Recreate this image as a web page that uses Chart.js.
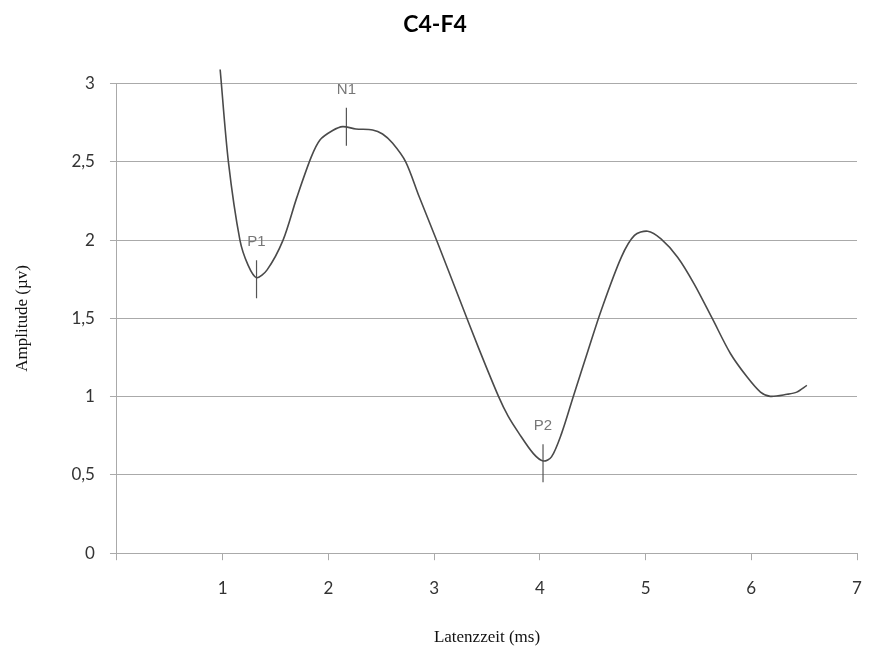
<!DOCTYPE html>
<html>
<head>
<meta charset="utf-8">
<script src="https://cdn.jsdelivr.net/npm/chart.js@4.4.0/dist/chart.umd.min.js"></script>
<style>
  html, body { margin: 0; padding: 0; background: #fff; }
  #wrap { width: 870px; height: 654px; }
</style>
</head>
<body>
<div id="wrap"><canvas id="chart" width="870" height="654"></canvas></div>
<script>
// waveform (latency ms, amplitude µV)
const latency = [0.976, 1.054, 1.163, 1.24, 1.32, 1.42, 1.571, 1.70, 1.837, 1.92, 2.04, 2.135, 2.26, 2.418, 2.512, 2.606,
  2.731, 2.857, 3.029, 3.233, 3.421, 3.61, 3.70, 3.798, 3.939, 4.033, 4.11, 4.205, 4.315, 4.456, 4.58, 4.77, 4.895, 5.02,
  5.146, 5.303, 5.459, 5.632, 5.804, 5.961, 6.087, 6.18, 6.338, 6.43, 6.526];
const amplitude = [3.09, 2.50, 2.00, 1.84, 1.76, 1.81, 2.00, 2.27, 2.53, 2.64, 2.70, 2.725, 2.71, 2.704, 2.678, 2.62,
  2.50, 2.28, 1.99, 1.635, 1.31, 1.0, 0.875, 0.77, 0.636, 0.589, 0.615, 0.764, 0.998, 1.295, 1.551, 1.89, 2.03, 2.057,
  2.008, 1.891, 1.721, 1.498, 1.274, 1.125, 1.029, 1.002, 1.015, 1.029, 1.072];

// marked peaks
const peakNames = ['P1', 'N1', 'P2'];
const peakLatency = [1.32, 2.17, 4.03];
const peakAmplitude = [1.75, 2.725, 0.575];

const xTicks = [1, 2, 3, 4, 5, 6, 7];

const peakLabels = {
  id: 'peakLabels',
  afterDatasetsDraw(chart) {
    const ctx = chart.ctx;
    const xs = chart.scales.x, ys = chart.scales.y;
    ctx.save();
    ctx.font = '15px "Liberation Sans"';
    ctx.fillStyle = '#777';
    ctx.textAlign = 'center';
    ctx.textBaseline = 'middle';
    peakNames.forEach((name, i) => {
      ctx.fillText(name, xs.getPixelForValue(peakLatency[i]), ys.getPixelForValue(peakAmplitude[i]) - 37);
    });
    ctx.restore();
  }
};

new Chart(document.getElementById('chart'), {
  type: 'scatter',
  data: {
    datasets: [{
      data: latency.map((x, i) => ({x: x, y: amplitude[i]})),
      showLine: true,
      borderColor: '#4a4a4a',
      borderWidth: 1.6,
      pointRadius: 0,
      tension: 0.3,
      clip: false
    }, {
      data: peakLatency.map((x, i) => ({x: x, y: peakAmplitude[i]})),
      showLine: false,
      pointStyle: 'line',
      rotation: 90,
      pointRadius: 19,
      borderColor: '#555',
      borderWidth: 1.2,
      clip: false
    }]
  },
  options: {
    responsive: false,
    animation: false,
    layout: { autoPadding: false, padding: { left: 0, right: 0, top: 0, bottom: 0 } },
    plugins: {
      legend: { display: false },
      tooltip: { enabled: false },
      title: {
        display: true,
        text: 'C4-F4',
        color: '#000',
        font: { family: 'Lato', size: 23, weight: 'bold' },
        padding: { top: 11, bottom: 45 }
      }
    },
    scales: {
      x: {
        type: 'linear',
        min: 0,
        max: 7,
        afterBuildTicks(axis) { axis.ticks = [0].concat(xTicks).map(v => ({value: v})); },
        // tick padding also gets added to the right overflow, so set it by hand
        afterFit(axis) { axis.paddingRight = 13; },
        ticks: {
          color: '#333',
          font: { family: 'Lato', size: 17 },
          padding: 18,
          callback: v => v === 0 ? '' : String(v)
        },
        grid: { drawOnChartArea: false, color: '#aaa', tickLength: 7 },
        border: { color: '#aaa' },
        title: {
          display: true,
          text: 'Latenzzeit (ms)',
          color: '#111',
          font: { family: 'Liberation Serif', size: 17 },
          padding: { top: 11, bottom: 6 }
        }
      },
      y: {
        min: 0,
        max: 3,
        ticks: {
          stepSize: 0.5,
          color: '#333',
          font: { family: 'Lato', size: 17 },
          padding: 15,
          callback: v => String(v).replace('.', ',')
        },
        grid: { color: '#aaa', tickLength: 7 },
        border: { color: '#aaa' },
        title: {
          display: true,
          text: 'Amplitude (µv)',
          color: '#111',
          font: { family: 'Liberation Serif', size: 17 },
          padding: { top: 12, bottom: 24 }
        }
      }
    }
  },
  plugins: [peakLabels]
});
</script>
</body>
</html>
